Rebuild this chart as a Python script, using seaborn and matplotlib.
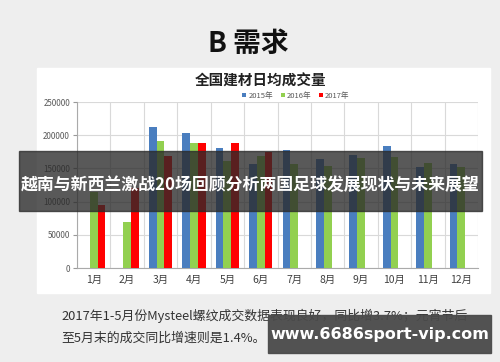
import numpy as np
import pandas as pd
import matplotlib
matplotlib.use("Agg")
import matplotlib.pyplot as plt
import seaborn as sns
from matplotlib.patches import Rectangle

# monthly average daily volume
months = ["1月", "2月", "3月", "4月", "5月", "6月", "7月", "8月", "9月", "10月", "11月", "12月"]
years = ["2015年", "2016年", "2017年"]
v2015 = [np.nan, np.nan, 212000, 204000, 181000, 157000, 177000, 164000, 170000, 183000, 152000, 157000]
v2016 = [115000, 70000, 191000, 188000, 161000, 169000, 157000, 153000, 165000, 167000, 158000, 152000]
v2017 = [95000, 121000, 168000, 189000, 189000, 175000, np.nan, np.nan, np.nan, np.nan, np.nan, np.nan]
yticks = [0, 50000, 100000, 150000, 200000, 250000]

page_title = "B 需求"
chart_title = "全国建材日均成交量"
banner = "越南与新西兰激战20场回顾分析两国足球发展现状与未来展望"
note1 = "2017年1-5月份Mysteel螺纹成交数据表现良好，同比增3.7%；元宵节后"
note2 = "至5月末的成交同比增速则是1.4%。"
site = "www.6686sport-vip.com"

df = pd.DataFrame({"月": months, years[0]: v2015, years[1]: v2016, years[2]: v2017})
df = df.melt(id_vars="月", var_name="年", value_name="成交量")

sns.set_style("white")
plt.rcParams['font.family'] = ['Noto Sans CJK SC', 'DejaVu Sans']

W, H = 500, 362
fig = plt.figure(figsize=(5, 3.62), dpi=100, facecolor="#eeeeee")

def fx(x):
    return x / W

def fy(y):
    return 1 - y / H

# white panel behind the chart
fig.add_artist(Rectangle((fx(37), fy(293)), fx(490) - fx(37), fy(68) - fy(293),
                         transform=fig.transFigure, color="white", zorder=-1))

ax = fig.add_axes([fx(77), fy(268), fx(478) - fx(77), fy(102) - fy(268)])
ax.set_facecolor("none")
sns.barplot(data=df, x="月", y="成交量", hue="年", order=months, hue_order=years,
            palette=["#4A7EBF", "#92D050", "#FF0000"], width=0.7, errorbar=None,
            saturation=1, linewidth=0, ax=ax, zorder=3)

ax.set_ylim(0, 250000)
ax.set_xlim(-0.5, 11.5)
ax.set_yticks(yticks)
ax.set_yticklabels([str(t) for t in yticks], fontsize=5.8, color="#595959")
ax.set_xticks(range(len(months)))
ax.set_xticklabels(months, fontsize=7.5, color="#404040")
ax.set_xticks(np.arange(-0.5, 12, 1), minor=True)
ax.tick_params(axis="x", which="both", length=0, pad=5)
ax.tick_params(axis="y", length=3, color="#999999", pad=2, left=True)
ax.grid(True, axis="y", color="#d9d9d9", lw=0.8, zorder=0)
ax.grid(True, axis="x", which="minor", color="#d9d9d9", lw=0.8, zorder=0)
ax.grid(False, axis="x", which="major")
ax.set_axisbelow(True)
for s in ["top", "right"]:
    ax.spines[s].set_visible(False)
for s in ["left", "bottom"]:
    ax.spines[s].set_color("#aaaaaa")
    ax.spines[s].set_linewidth(0.8)
ax.set_xlabel("")
ax.set_ylabel("")

handles, labels = ax.get_legend_handles_labels()
ax.legend(handles, labels, ncol=3, loc="center", bbox_to_anchor=(fx(296), fy(96)),
          bbox_transform=fig.transFigure, frameon=False, fontsize=5.5,
          handlelength=0.5, handleheight=0.5, handletextpad=0.3, columnspacing=1.0,
          labelcolor="#595959")

fig.text(fx(248), fy(44), page_title, fontsize=20, fontweight="bold", color="#111111",
         ha="center", va="center")
fig.text(fx(261), fy(81), chart_title, fontsize=10.5, fontweight="bold", color="#222222",
         ha="center", va="center")

fig.text(fx(61), fy(316), note1, fontsize=9.3, color="#333333", ha="left", va="center")
fig.text(fx(61), fy(338), note2, fontsize=9.3, color="#333333", ha="left", va="center")

# overlay banner
fig.add_artist(Rectangle((fx(19), fy(211)), fx(482) - fx(19), fy(151) - fy(211),
                         transform=fig.transFigure, color="#2a2a2a", alpha=0.78, zorder=5))
fig.text(fx(250), fy(185), banner, fontsize=12.2, fontweight="bold", color="white",
         ha="center", va="center", zorder=6)

# site box
fig.add_artist(Rectangle((fx(268), fy(353)), fx(491) - fx(268), fy(315) - fy(353),
                         transform=fig.transFigure, color="#4a4a4a", alpha=0.95, zorder=5))
fig.text(fx(380), fy(334), site, fontsize=11.5, fontweight="bold", color="white",
         ha="center", va="center", zorder=6, family=["DejaVu Sans"])

fig.savefig("out.png", dpi=100, facecolor=fig.get_facecolor())
